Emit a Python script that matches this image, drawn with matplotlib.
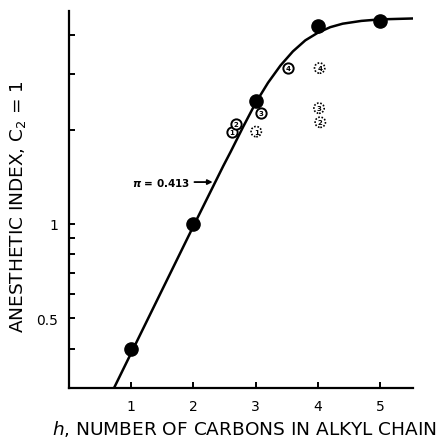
import matplotlib
matplotlib.use("Agg")
import matplotlib.pyplot as plt
from matplotlib.ticker import FixedLocator, NullFormatter, FixedFormatter

# Homologous series: n-alkyl chain length vs. anesthetic index (C2 = 1)
filled_n = [1, 2, 3, 4, 5]
filled_index = [0.40, 1.00, 2.46, 4.28, 4.44]

open_n = [2.62, 2.69, 3.09, 3.52]
open_index = [1.96, 2.08, 2.25, 3.14]
open_labels = ["1", "2", "3", "4"]

dotted_n = [3.01, 4.04, 4.02, 4.03]
dotted_index = [1.97, 2.11, 2.34, 3.14]
dotted_labels = ["1", "2", "3", "4"]

# Drawn trend curve (slope pi = 0.413 on the linear part, then levelling off)
curve_n = [0.71, 2.01, 2.48, 2.6, 2.8, 3.0, 3.2, 3.4, 3.6, 3.8, 4.0, 4.2, 4.4, 4.7, 5.0, 5.53]
curve_index = [0.296, 0.993, 1.53, 1.70, 2.04, 2.43, 2.82, 3.20, 3.55, 3.85, 4.07,
               4.24, 4.35, 4.44, 4.49, 4.52]

x_ticks = [1, 2, 3, 4, 5]
y_major = [0.5, 1]
y_major_labels = ["0.5", "1"]
y_minor = [0.4, 0.6, 0.7, 0.8, 0.9, 2, 3, 4]

fig = plt.figure(figsize=(4.45, 4.39), dpi=100)
ax = fig.add_axes([0.155, 0.114, 0.773, 0.859])

ax.set_yscale("log")
ax.set_xlim(0, 5.53)
ax.set_ylim(0.30, 4.78)

ax.plot(curve_n, curve_index, color="black", lw=1.8, zorder=2,
        solid_capstyle="round", solid_joinstyle="round")

ax.plot(filled_n, filled_index, "o", color="black", markersize=9.5, zorder=3)

ax.scatter(open_n, open_index, s=55, facecolors="white", edgecolors="black",
           linewidths=1.4, zorder=4)
for x, y, t in zip(open_n, open_index, open_labels):
    ax.text(x, y, t, ha="center", va="center", fontsize=5, fontweight="bold", zorder=5)

ax.scatter(dotted_n, dotted_index, s=55, facecolors="white", edgecolors="black",
           linewidths=1.2, linestyles=(0, (1, 1)), zorder=4)
for x, y, t in zip(dotted_n, dotted_index, dotted_labels):
    ax.text(x, y, t, ha="center", va="center", fontsize=5, fontweight="bold", zorder=5)

ax.annotate(r"$\boldsymbol{\pi}$ = 0.413", xy=(2.31, 1.36), xytext=(1.95, 1.36),
            ha="right", va="center", fontsize=7.5, fontweight="bold",
            arrowprops=dict(arrowstyle="-|>", color="black", lw=1.3,
                            shrinkA=1, shrinkB=0, mutation_scale=7))

for side in ("top", "right"):
    ax.spines[side].set_visible(False)
for side in ("left", "bottom"):
    ax.spines[side].set_linewidth(1.6)

ax.xaxis.set_major_locator(FixedLocator(x_ticks))
ax.set_xticklabels([str(t) for t in x_ticks])
ax.yaxis.set_major_locator(FixedLocator(y_major))
ax.yaxis.set_major_formatter(FixedFormatter(y_major_labels))
ax.yaxis.set_minor_locator(FixedLocator(y_minor))
ax.yaxis.set_minor_formatter(NullFormatter())

ax.tick_params(axis="both", which="both", direction="in", length=4.5, width=1.4,
               labelsize=10, pad=8)

ax.set_xlabel(r"$h$, NUMBER OF CARBONS IN ALKYL CHAIN", fontsize=13.3)
ax.set_ylabel(r"ANESTHETIC INDEX, C$_2$ = 1", fontsize=13.3)
ax.xaxis.set_label_coords(0.51, -0.08)
ax.yaxis.set_label_coords(-0.148, 0.483)
ax.yaxis.label.set_va("center")
ax.xaxis.label.set_va("top")

fig.savefig("out.png", dpi=100)
